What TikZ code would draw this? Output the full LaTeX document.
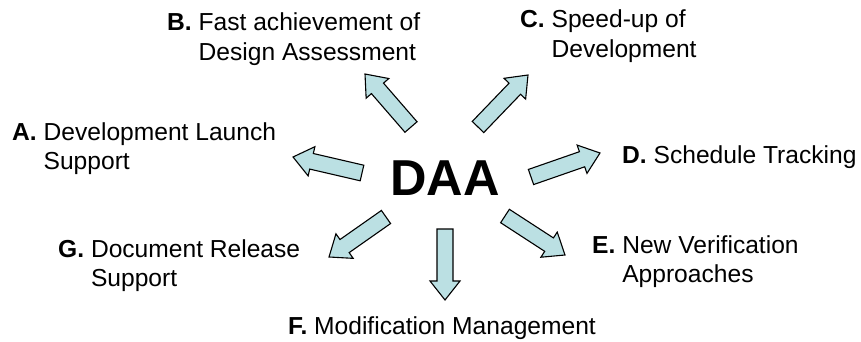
\documentclass[tikz,border=0pt]{standalone}
\usepackage{fontspec}
\setmainfont{Liberation Sans}
\usetikzlibrary{calc}

\definecolor{arrowfill}{RGB}{187,224,227}

% label with bold letter and hanging second line
\newcommand{\daaitem}[3]{\begin{tabular}[t]{@{}l@{ }l@{}}\textbf{#1}&#2\\&#3\end{tabular}}

\tikzset{
  daalabel/.style={inner sep=0pt,anchor=base west,font=\fontsize{24.6}{29.5}\selectfont},
  daaarrow/.style={draw=black,fill=arrowfill,line width=1.1pt,line join=miter}
}

\begin{document}
\begin{tikzpicture}[x=1pt,y=-1pt]
\useasboundingbox (0,0) rectangle (861,342);

\node[inner sep=0pt,anchor=base,font=\fontsize{50.5}{60}\selectfont\bfseries] (daa) at (445,195) {DAA};

\node[daalabel] (labA) at (12,140)  {\daaitem{A.}{Development Launch}{Support}};
\node[daalabel] (labB) at (167,31)  {\daaitem{B.}{Fast achievement of}{Design Assessment}};
\node[daalabel] (labC) at (520,28)  {\daaitem{C.}{Speed-up of}{Development}};
\node[daalabel] (labD) at (622,163) {\textbf{D.} Schedule Tracking};
\node[daalabel] (labE) at (592,253) {\daaitem{E.}{New Verification}{Approaches}};
\node[daalabel] (labF) at (288,334) {\textbf{F.} Modification Management};
\node[daalabel] (labG) at (58,257)  {\daaitem{G.}{Document Release}{Support}};

% block arrows from around DAA towards the labels
\foreach \n/\tx/\ty/\hx/\hy in {A/362/173/293/157, B/411/127/365/74, C/478/127/528/75,
    D/531/177/600/153, E/505/216/565/255, F/445/229/445/300, G/386/217/329/257}{
  \coordinate (tail\n) at (\tx,\ty);
  \coordinate (tip\n) at (\hx,\hy);
  \pgfmathsetmacro\ang{atan2(\ty-\hy,\hx-\tx)}
  \pgfmathsetmacro\len{veclen(\hx-\tx,\hy-\ty)}
  \draw[daaarrow,shift={(tail\n)},rotate=\ang]
    (0pt,-8pt) -- (\len pt-19pt,-8pt) -- (\len pt-19pt,-15pt) -- (\len pt,0pt)
    -- (\len pt-19pt,15pt) -- (\len pt-19pt,8pt) -- (0pt,8pt) -- cycle;
}
\end{tikzpicture}
\end{document}
